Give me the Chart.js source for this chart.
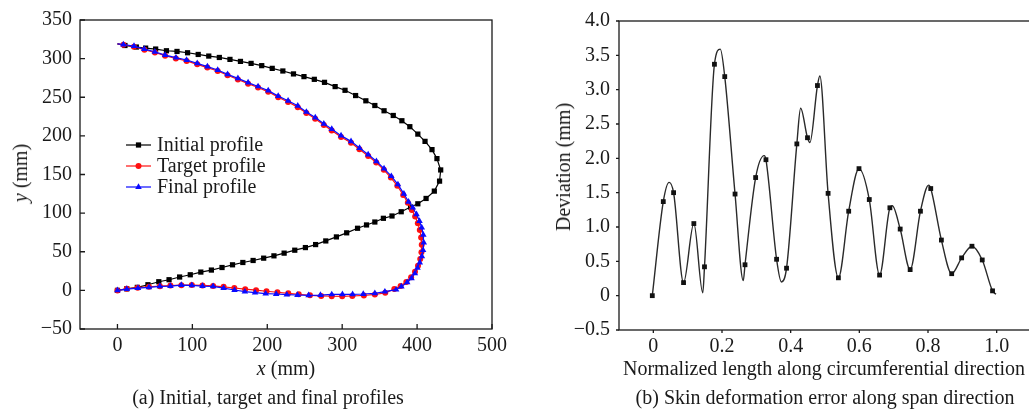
<!DOCTYPE html>
<html lang="en">
<head>
<meta charset="UTF-8">
<title>Profiles and skin deformation error</title>
<style>
  html, body { margin: 0; padding: 0; background: #fff; overflow: hidden; }
  #page { position: relative; width: 1029px; height: 412px; overflow: hidden;
          font-family: "Liberation Serif", "DejaVu Serif", serif; color: #1a1a1a; }
  canvas { position: absolute; top: 0; }
  #chartA { left: 0; }
  #chartB { left: 515px; }
  .txt { position: absolute; font-size: 20px; line-height: 1; white-space: nowrap;
         transform: translate(-50%, -50%); }
  .rot { transform: translate(-50%, -50%) rotate(-90deg); }
</style>
</head>
<body>
<div id="page">
  <canvas id="chartA" width="515" height="412"></canvas>
  <canvas id="chartB" width="520" height="412"></canvas>

  <div class="txt" style="left:286px; top:368px;"><i>x</i> (mm)</div>
  <div class="txt rot" style="left:20px; top:173px;"><i>y</i> (mm)</div>
  <div class="txt" style="left:268px; top:397px;">(a) Initial, target and final profiles</div>

  <div class="txt rot" style="left:563px; top:167px;">Deviation (mm)</div>
  <div class="txt" style="left:824px; top:368px;">Normalized length along circumferential direction</div>
  <div class="txt" style="left:825px; top:397px;">(b) Skin deformation error along span direction</div>
</div>

<script src="https://cdn.jsdelivr.net/npm/chart.js"></script>
<script>
// ---- (a) profiles, mm ----
const initX = [0, 10, 25.2, 37.6, 51, 65.4, 79.5, 93.6, 107.8, 121.9, 136, 150.2, 164.2, 178.4, 192.6, 206.6, 220.8, 235, 249, 262.8, 276.4, 290.6, 303.8, 317.9, 331.6, 343.6, 355.9, 368.2, 379.7, 390.3, 401, 410.6, 419.9, 426.5, 431.5, 430, 423, 412, 401, 391.3, 378.8, 366.5, 355, 343.6, 332.5, 320.5, 306, 292.3, 278.1, 264.5, 250.9, 236.7, 222.5, 208.9, 195.2, 181.1, 167.4, 153.6, 139.6, 125.4, 111.3, 97.2, 83, 68.9, 55.2, 40.7, 26.5, 12.4, 0];
const initY = [319, 317, 315, 313.6, 312.4, 310.2, 309.3, 307.6, 305.4, 303.3, 301.5, 299, 296.4, 293.8, 290.9, 287.4, 284, 280.2, 276.7, 273.2, 269.3, 263.8, 259, 252.2, 245.4, 239.3, 232.5, 226.4, 219.6, 211.9, 202.3, 192.9, 182.2, 170.6, 155.9, 141.4, 128.5, 119, 112.1, 107.9, 101.8, 96.3, 93.3, 88.5, 84.7, 80.4, 74.5, 69.2, 64, 59.3, 55.4, 52, 48.2, 44.7, 41.7, 38.7, 36.1, 33.1, 29.6, 26.3, 23.7, 20.2, 17.3, 13.8, 11.2, 7.3, 3.9, 2, 0];

const targetX = [0, 8, 22, 36, 50, 63.6, 78, 92.3, 106.5, 120, 133.8, 147, 160.8, 174.4, 187.7, 201.3, 214.6, 227.8, 240.7, 252.2, 264, 275.5, 286, 298.5, 311.8, 323, 334.7, 345.5, 355.6, 365, 373.6, 381.4, 387.6, 393, 397.4, 401, 403.6, 405.4, 406.2, 405.8, 404.2, 401.2, 397.2, 392, 385.6, 378, 369.6, 357.5, 343.6, 329, 313.5, 300, 286, 272, 257, 242, 228, 213.5, 199, 185, 170.5, 156, 141.7, 127.7, 113.5, 99.3, 85.3, 70.7, 56.6, 42, 27, 12.4, 0];
const targetY = [319, 318, 315.5, 311.5, 308, 303.8, 300.2, 297, 292.6, 288.4, 284, 278.4, 273, 267.6, 262.6, 257, 250, 243.8, 237.2, 229.6, 222.2, 214.2, 207, 198.6, 191, 182.6, 174, 165.4, 156, 146, 135.4, 123.6, 113.4, 104, 95.5, 87, 78, 68.5, 59, 49.5, 40.5, 32, 24, 17, 10.8, 5.6, 1.8, -3.2, -5.3, -6.6, -7.3, -7.7, -7.6, -7.2, -6.4, -5, -3.8, -2.4, -1.1, 0.2, 1.6, 3.1, 4.6, 5.8, 6.4, 6.8, 6.7, 6.2, 5.5, 4.7, 3.5, 2, 0];

const finalX = [0, 7.9, 22.1, 35.8, 49.9, 63.6, 78.1, 92.3, 106.5, 120.1, 133.8, 147, 160.8, 174.4, 187.7, 201.3, 214.6, 227.8, 240.7, 252.2, 264.1, 275.5, 286.1, 298.5, 311.8, 323.2, 334.7, 345.7, 355.9, 365.6, 374.4, 382.4, 388.6, 394.3, 399.2, 403.2, 406.2, 408.3, 408.9, 408, 406.4, 403.6, 400.5, 397, 392.5, 386.8, 379, 372, 357, 343.6, 328.1, 313.9, 300.3, 286.1, 271, 255.2, 240.3, 226.1, 211.9, 197.9, 183.7, 170.1, 156.3, 141.7, 127.7, 113.5, 99.3, 85.3, 70.7, 56.6, 42, 27.4, 12.4, 0];
const finalY = [319, 318.3, 316.2, 312.4, 308.9, 304.6, 301.2, 298.2, 293.8, 289.6, 285.3, 279.6, 274.5, 268.9, 264, 258.6, 251.5, 245.4, 238.9, 231, 223.8, 215.7, 208.8, 200.3, 192.9, 184.3, 175.8, 167.1, 157.7, 147.8, 137.1, 125, 114.7, 107, 98.5, 89.8, 81.2, 71.8, 61.9, 52, 44, 36.1, 29, 21.9, 15.5, 10.3, 5, 0.9, -1.7, -3.9, -4.7, -5.1, -5.1, -5.3, -6.2, -6.4, -6, -5.6, -4.7, -4.3, -3, -1.7, 0.5, 3, 5.2, 5.6, 6.5, 6.9, 5.6, 5.2, 3.9, 3, 1.7, 0];

const profileNames = ['Initial profile', 'Target profile', 'Final profile'];
const xTicksA = [0, 100, 200, 300, 400, 500];
const yTicksA = [-50, 0, 50, 100, 150, 200, 250, 300, 350];

// ---- (b) deviation along normalized length ----
const curveX = [-0.003, 0.029, 0.046, 0.059, 0.088, 0.118, 0.144, 0.149, 0.178, 0.195, 0.208, 0.238, 0.262, 0.267, 0.298, 0.323, 0.328, 0.359, 0.373, 0.388, 0.418, 0.429, 0.449, 0.456, 0.478, 0.485, 0.509, 0.539, 0.569, 0.599, 0.629, 0.659, 0.689, 0.696, 0.719, 0.748, 0.778, 0.802, 0.808, 0.839, 0.869, 0.898, 0.928, 0.958, 0.988, 0.998];
const curveY = [0.0, 1.37, 1.65, 1.50, 0.19, 1.05, 0.04, 0.42, 3.37, 3.59, 3.19, 1.48, 0.22, 0.45, 1.72, 2.04, 1.98, 0.53, 0.20, 0.40, 2.21, 2.73, 2.30, 2.23, 3.06, 3.20, 1.49, 0.26, 1.23, 1.85, 1.40, 0.30, 1.28, 1.31, 0.97, 0.38, 1.23, 1.61, 1.56, 0.81, 0.32, 0.55, 0.72, 0.52, 0.07, 0.02];

const markX = [-0.003, 0.029, 0.059, 0.088, 0.118, 0.149, 0.178, 0.208, 0.238, 0.267, 0.298, 0.328, 0.359, 0.388, 0.418, 0.449, 0.478, 0.509, 0.539, 0.569, 0.599, 0.629, 0.659, 0.689, 0.719, 0.748, 0.778, 0.808, 0.839, 0.869, 0.898, 0.928, 0.958, 0.988];
const markY = [0.0, 1.37, 1.50, 0.19, 1.05, 0.42, 3.37, 3.19, 1.48, 0.45, 1.72, 1.98, 0.53, 0.40, 2.21, 2.30, 3.06, 1.49, 0.26, 1.23, 1.85, 1.40, 0.30, 1.28, 0.97, 0.38, 1.23, 1.56, 0.81, 0.32, 0.55, 0.72, 0.52, 0.07];

const xTicksB = [0, 0.2, 0.4, 0.6, 0.8, 1.0];
const xLabelsB = ['0', '0.2', '0.4', '0.6', '0.8', '1.0'];
const yTicksB = [-0.5, 0, 0.5, 1, 1.5, 2, 2.5, 3, 3.5, 4];
const yLabelsB = ['\u22120.5', '0', '0.5', '1.0', '1.5', '2.0', '2.5', '3.0', '3.5', '4.0'];

const pts = (xs, ys) => xs.map((x, i) => ({ x: x, y: ys[i] }));
const FONT = { family: '"Liberation Serif", "DejaVu Serif", serif', size: 20 };
const INK = '#1a1a1a';

// box round the plot + short ticks (len > 0 inward, < 0 outward)
function frame(len) {
  return {
    id: 'frame',
    afterDatasetsDraw(chart) {
      const { ctx, chartArea: a, scales } = chart;
      ctx.save();
      ctx.strokeStyle = INK;
      ctx.lineWidth = 1.3;
      ctx.strokeRect(a.left, a.top, a.right - a.left, a.bottom - a.top);
      ctx.beginPath();
      scales.x.ticks.forEach(t => {
        const p = scales.x.getPixelForValue(t.value);
        ctx.moveTo(p, a.bottom);
        ctx.lineTo(p, a.bottom - len);
      });
      scales.y.ticks.forEach(t => {
        const p = scales.y.getPixelForValue(t.value);
        ctx.moveTo(a.left, p);
        ctx.lineTo(a.left + len, p);
      });
      ctx.stroke();
      ctx.restore();
    }
  };
}

// legend drawn as line + marker + text, like the original
const lineLegend = {
  id: 'lineLegend',
  afterDraw(chart) {
    const { ctx, chartArea: a } = chart;
    const order = [0, 1, 2];
    ctx.save();
    order.forEach((di, row) => {
      const ds = chart.data.datasets[di];
      const y = a.top + 125 + row * 21;
      const x0 = a.left + 46, x1 = a.left + 71;
      ctx.strokeStyle = ds.borderColor;
      ctx.lineWidth = ds.borderWidth;
      ctx.beginPath();
      ctx.moveTo(x0, y);
      ctx.lineTo(x1, y);
      ctx.stroke();
      ctx.fillStyle = ds.backgroundColor;
      Chart.helpers.drawPoint(ctx, { pointStyle: ds.pointStyle, radius: ds.legendRadius, rotation: 0, borderWidth: 0 }, (x0 + x1) / 2, y);
      ctx.fillStyle = INK;
      ctx.font = '20px "Liberation Serif", serif';
      ctx.textBaseline = 'middle';
      ctx.fillText(profileNames[di], x1 + 6, y + 1);
    });
    ctx.restore();
  }
};

function linScale(min, max, ticks, pad, fit, labels) {
  return {
    type: 'linear',
    min: min,
    max: max,
    grid: { display: false, drawTicks: false },
    border: { display: false },
    afterBuildTicks: s => { s.ticks = ticks.map(v => ({ value: v })); },
    afterFit: fit,
    ticks: {
      font: FONT,
      color: INK,
      padding: pad,
      callback: (v, i) => labels ? labels[i] : String(v).replace('-', '\u2212')
    }
  };
}

function profileSet(i, xs, ys, color, style, r) {
  return {
    label: profileNames[i],
    data: pts(xs, ys),
    showLine: true,
    borderColor: color,
    backgroundColor: color,
    borderWidth: 1.2,
    pointStyle: style,
    pointRadius: c => c.dataIndex === 0 ? 0 : r,
    legendRadius: r,
    pointBorderWidth: 0,
    tension: 0,
    order: 2 - i
  };
}

new Chart(document.getElementById('chartA'), {
  type: 'scatter',
  data: {
    datasets: [
      profileSet(0, initX, initY, '#000000', 'rect', 3.7),
      profileSet(1, targetX, targetY, '#ff1010', 'circle', 3),
      profileSet(2, finalX, finalY, '#0a0aff', 'triangle', 3.8)
    ]
  },
  options: {
    responsive: false,
    animation: false,
    layout: { padding: { left: 0, right: 23, top: 20, bottom: 53 } },
    plugins: { legend: { display: false }, tooltip: { enabled: false } },
    scales: {
      x: linScale(-50, 500, xTicksA, 5, s => { s.height = 30; }),
      y: linScale(-50, 350, yTicksA, 8, s => { s.width = 80; })
    }
  },
  plugins: [frame(5), lineLegend]
});

new Chart(document.getElementById('chartB'), {
  type: 'scatter',
  data: {
    datasets: [
      {
        label: 'markers',
        data: pts(markX, markY),
        showLine: false,
        backgroundColor: '#111',
        pointStyle: 'rect',
        pointRadius: 3.4,
        pointBorderWidth: 0,
        order: 0
      },
      {
        label: 'deviation',
        data: pts(curveX, curveY),
        showLine: true,
        borderColor: '#2a2a2a',
        borderWidth: 1.4,
        pointRadius: 0,
        cubicInterpolationMode: 'monotone',
        order: 1
      }
    ]
  },
  options: {
    responsive: false,
    animation: false,
    layout: { padding: { left: 0, right: 3, top: 20, bottom: 52 } },
    plugins: { legend: { display: false }, tooltip: { enabled: false } },
    scales: {
      x: linScale(-0.1, 1.1, xTicksB, 5, s => { s.height = 30; }, xLabelsB),
      y: linScale(-0.5, 4.0, yTicksB, 9, s => { s.width = 104; }, yLabelsB)
    }
  },
  plugins: [frame(-3)]
});
</script>
</body>
</html>
